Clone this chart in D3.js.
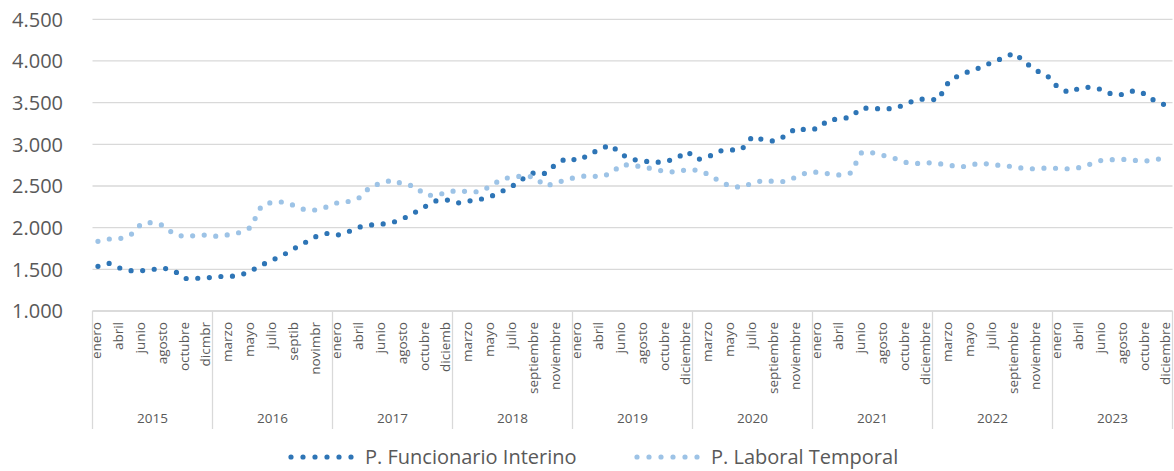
<!DOCTYPE html>
<html lang="es">
<head>
<meta charset="utf-8"/>
<title>P. Funcionario Interino / P. Laboral Temporal</title>
<script src="https://cdn.jsdelivr.net/npm/d3@7/dist/d3.min.js"></script>
<style>
  html, body { margin:0; padding:0; background:#fff; overflow:hidden; }
  svg { display:block; font-family:"Open Sans", sans-serif; }
  .grid line { stroke:#d9d9d9; stroke-width:1.3; }
  .tick-y { fill:#595959; font-size:20px; }
  .mes { fill:#595959; font-size:13.5px; }
  .anio { fill:#595959; font-size:13.5px; }
  .leg { fill:#595959; font-size:20px; }
</style>
</head>
<body>
<svg width="1174" height="471"></svg>
<script>
// años y meses (11 categorías por año, sin febrero)
const years  = [2015, 2016, 2017, 2018, 2019, 2020, 2021, 2022, 2023];
const months = ["enero","marzo","abril","mayo","junio","julio","agosto","septiembre","octubre","noviembre","diciembre"];
// nombres abreviados tal como aparecen en el original
const shortNames = {"2015-10":"dicmbr", "2016-7":"septib", "2016-9":"novimbr", "2017-10":"diciemb"};
const yTicks = [1000, 1500, 2000, 2500, 3000, 3500, 4000, 4500];

const funcionario = [
  1536,1572,1516,1484,1484,1498,1516,1480,1390,1392,1398,
  1414,1414,1426,1480,1552,1612,1672,1750,1822,1894,1930,
  1912,1954,2008,2032,2042,2062,2110,2178,2254,2322,2332,
  2296,2320,2338,2374,2434,2500,2590,2662,2650,2764,2836,
  2806,2872,2944,2992,2878,2818,2800,2781,2794,2830,2914,
  2818,2854,2920,2932,2938,3094,3054,3038,3100,3194,3170,
  3190,3298,3300,3328,3436,3430,3424,3430,3478,3538,3544,
  3532,3754,3834,3880,3926,3988,4036,4096,3982,3886,3826,
  3682,3622,3676,3686,3658,3596,3598,3646,3604,3508,3466
];
const laboral = [
  1836,1864,1868,1912,2050,2062,2026,1918,1893,1906,1912,
  1894,1916,1942,2002,2266,2306,2308,2266,2212,2212,2250,
  2302,2315,2362,2496,2534,2572,2520,2500,2392,2386,2426,
  2448,2428,2432,2498,2584,2606,2622,2608,2500,2536,2580,
  2608,2626,2608,2650,2756,2748,2727,2702,2673,2668,2698,
  2688,2638,2555,2494,2486,2536,2566,2554,2554,2608,2662,
  2667,2646,2632,2656,2902,2898,2866,2832,2784,2769,2780,
  2768,2753,2724,2752,2776,2754,2745,2730,2708,2706,2716,
  2712,2706,2721,2764,2808,2816,2819,2807,2799,2818,2840
];

const series = [
  {name:"P. Funcionario Interino", values:funcionario, color:"#2e75b6"},
  {name:"P. Laboral Temporal",     values:laboral,     color:"#9dc3e6"}
];

const categories = [];
years.forEach(y => months.forEach((m, j) => {
  categories.push({year:y, label: shortNames[y + "-" + j] || m});
}));

const svg = d3.select("svg");
const mLeft = 92.5, mRight = 1172.5, mTop = 19.3, mBottom = 311;

const x = d3.scaleBand().domain(d3.range(categories.length)).range([mLeft, mRight]).padding(0);
const y = d3.scaleLinear().domain([1000, 4500]).range([mBottom, mTop]);
const cx = i => x(i) + x.bandwidth() / 2;
const sepX = k => mLeft + k * months.length * x.bandwidth();

// rejilla horizontal
svg.append("g").attr("class", "grid")
  .selectAll("line").data(yTicks).join("line")
  .attr("x1", mLeft).attr("x2", mRight)
  .attr("y1", d => y(d)).attr("y2", d => y(d));

// etiquetas eje Y
svg.append("g").selectAll("text").data(yTicks).join("text")
  .attr("class", "tick-y")
  .attr("x", 63).attr("y", d => y(d)).attr("dy", "0.36em")
  .attr("text-anchor", "end")
  .text(d => d3.format(",")(d).replace(",", "."));

// eje X de dos niveles
const ax = svg.append("g").attr("class", "grid");
ax.append("line").attr("x1", mLeft).attr("x2", mRight).attr("y1", mBottom).attr("y2", mBottom);
ax.selectAll("line.sep").data(d3.range(years.length + 1)).join("line")
  .attr("class", "sep")
  .attr("x1", sepX).attr("x2", sepX)
  .attr("y1", mBottom).attr("y2", 429);

svg.append("g").selectAll("text")
  .data(categories.map((c, i) => ({...c, i})).filter(d => d.i % 2 === 0))
  .join("text")
  .attr("class", "mes")
  .attr("transform", d => `translate(${cx(d.i) - 1.5},${mBottom + 11}) rotate(-90)`)
  .attr("text-anchor", "end").attr("dy", "0.36em")
  .text(d => d.label);

svg.append("g").selectAll("text").data(years).join("text")
  .attr("class", "anio")
  .attr("x", (d, k) => (sepX(k) + sepX(k + 1)) / 2)
  .attr("y", 418).attr("dy", "0.36em")
  .attr("text-anchor", "middle")
  .text(d => d);

// líneas punteadas
const line = d3.line().x((d, i) => cx(i)).y(d => y(d));
svg.append("g").selectAll("path").data(series).join("path")
  .attr("d", d => line(d.values))
  .attr("fill", "none")
  .attr("stroke", d => d.color)
  .attr("stroke-width", 5.2)
  .attr("stroke-linecap", "round")
  .attr("stroke-dasharray", "0 11.6");

// leyenda
const legX = [290, 636];
const leg = svg.append("g").selectAll("g").data(series).join("g")
  .attr("transform", (d, k) => `translate(${legX[k]},457)`);
leg.append("line")
  .attr("x1", 1).attr("x2", 62).attr("y1", 0).attr("y2", 0)
  .attr("stroke", d => d.color).attr("stroke-width", 5.2)
  .attr("stroke-linecap", "round").attr("stroke-dasharray", "0 12");
leg.append("text").attr("class", "leg")
  .attr("x", 75).attr("dy", "0.36em")
  .text(d => d.name);
</script>
</body>
</html>
